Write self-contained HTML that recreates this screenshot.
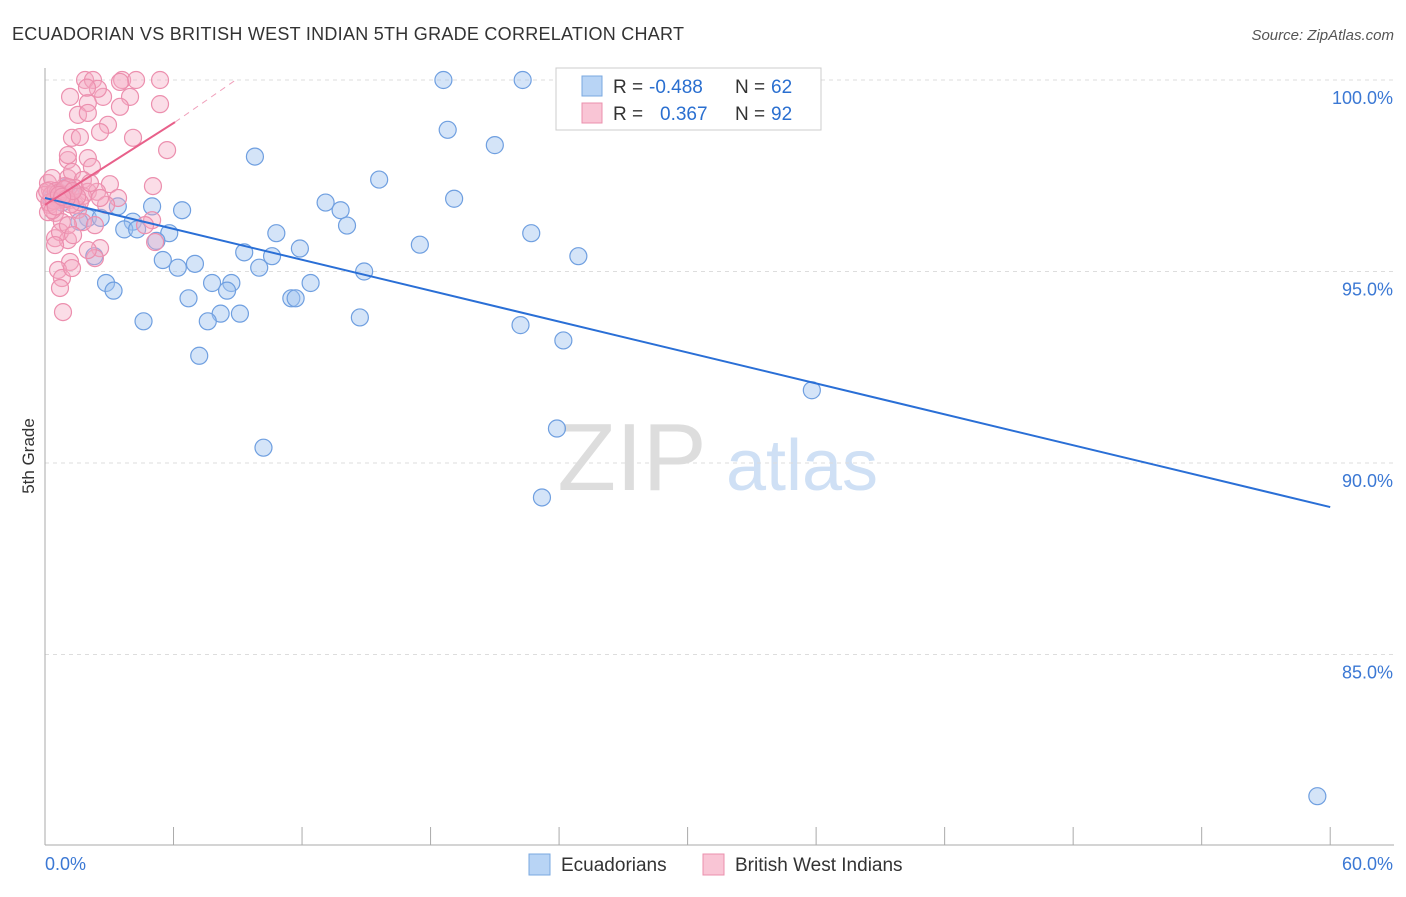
<!DOCTYPE html>
<html><head><meta charset="utf-8"><style>
body{margin:0;background:#fff;font-family:"Liberation Sans",sans-serif}
svg text{font-family:"Liberation Sans",sans-serif}
</style></head><body>
<svg id="c" width="1406" height="892">
<text x="12" y="40" font-size="18" fill="#333" textLength="672">ECUADORIAN VS BRITISH WEST INDIAN 5TH GRADE CORRELATION CHART</text>
<text x="1394" y="40" font-size="15" fill="#555" text-anchor="end" font-style="italic">Source: ZipAtlas.com</text>
<text x="34" y="456" font-size="17" fill="#333" text-anchor="middle" transform="rotate(-90 34 456)">5th Grade</text>
<g><text x="632" y="490" font-size="96" fill="#ddd" text-anchor="middle" font-family="Liberation Serif">ZIP</text><text x="802" y="490" font-size="72" fill="#cfe0f5" text-anchor="middle">atlas</text></g>
<g id="grid"></g><g id="pts"></g><g id="lines"></g>
<g>
<rect x="556" y="68" width="265" height="62" fill="#fff" stroke="#ccc"/>
<rect x="582" y="76" width="20" height="20" fill="#b8d4f5" stroke="#7aa8e0"/>
<rect x="582" y="103" width="20" height="20" fill="#f9c5d5" stroke="#eb90ad"/>
<text x="613" y="93" font-size="19" fill="#333">R =</text>
<text x="649" y="93" font-size="19" fill="#2a6fd0">-0.488</text>
<text x="735" y="93" font-size="19" fill="#333">N =</text>
<text x="771" y="93" font-size="19" fill="#2a6fd0">62</text>
<text x="613" y="120" font-size="19" fill="#333">R =</text>
<text x="660" y="120" font-size="19" fill="#2a6fd0">0.367</text>
<text x="735" y="120" font-size="19" fill="#333">N =</text>
<text x="771" y="120" font-size="19" fill="#2a6fd0">92</text>
</g>
<g>
<rect x="529" y="854" width="21" height="21" fill="#b8d4f5" stroke="#7aa8e0"/>
<text x="561" y="871" font-size="19" fill="#333">Ecuadorians</text>
<rect x="703" y="854" width="21" height="21" fill="#f9c5d5" stroke="#eb90ad"/>
<text x="735" y="871" font-size="19" fill="#333">British West Indians</text>
</g>
</svg>
<script>
const yTicks=[100,95,90,85];
const yTickLabels=["100.0%","95.0%","90.0%","85.0%"];
const xLabels=["0.0%","60.0%"];
const blueX=[18.6,22.3,18.8,21.0,9.8,15.6,19.1,1.0,3.4,5.0,6.4,13.1,13.8,14.1,2.0,1.6,2.6,4.1,3.7,4.3,5.8,5.2,10.8,22.7,17.5,11.9,9.3,2.3,5.5,10.6,24.9,6.2,7.0,10.0,14.9,2.85,7.8,8.7,12.4,8.5,3.2,6.7,11.5,11.7,9.1,8.2,7.6,4.6,14.7,22.2,24.2,7.2,35.8,23.9,10.2,23.2,59.4,0.5,0.3,1.2,0.8,26.7];
const blueY=[100,100,98.7,98.3,98.0,97.4,96.9,97.2,96.7,96.7,96.6,96.8,96.6,96.2,96.4,96.3,96.4,96.3,96.1,96.1,96.0,95.8,96.0,96.0,95.7,95.6,95.5,95.4,95.3,95.4,95.4,95.1,95.2,95.1,95.0,94.7,94.7,94.7,94.7,94.5,94.5,94.3,94.3,94.3,93.9,93.9,93.7,93.7,93.8,93.6,93.2,92.8,91.9,90.9,90.4,89.1,81.3,97.1,96.9,97.0,96.8,99.6];
const pinkX=[1.87,2.24,3.6,4.25,5.37,1.17,2.71,3.97,2.0,1.54,2.0,3.5,5.37,2.94,1.26,1.63,2.57,4.11,5.7,1.07,2.0,2.19,1.07,1.26,3.03,1.77,5.04,0.93,2.0,0.56,0.7,0.23,1.17,1.4,2.43,3.41,1.54,0.47,0.23,0.14,0.79,1.77,2.33,0.47,1.07,0.7,2.57,0.47,2.33,1.17,0.61,0.79,0.7,0.84,5.0,5.14,1.07,0.33,0,0.79,2.85,3.5,2.47,1.96,1.4,0.14,1.26,1.77,1.63,2.57,2.1,1.07,1.31,2.0,4.67,0.3,0.5,0.9,1.1,0.2,0.6,1.5,0.4,0.9,1.2,0.1,0.35,0.65,1.0,1.3,0.5,0.8];
const pinkY=[100,100,100,100,100,99.56,99.56,99.56,99.4,99.09,99.14,99.3,99.37,98.83,98.49,98.51,98.64,98.49,98.17,97.91,97.96,97.73,97.44,97.6,97.28,97.39,97.23,97.23,97.08,96.97,96.87,97.13,96.87,96.74,97.08,96.92,96.61,96.53,96.74,97.31,96.29,96.29,96.21,95.87,95.82,96.03,95.61,95.69,95.35,95.25,95.04,94.83,94.57,93.94,96.34,95.77,98.04,97.44,97.0,97.0,96.74,99.95,99.77,99.8,97.18,96.55,95.09,96.97,96.81,96.92,97.31,96.21,95.95,95.56,96.21,97.0,97.1,96.9,97.2,96.8,97.05,96.95,96.85,97.15,96.75,97.1,96.6,97.0,96.9,97.1,96.7,96.95];
const X=v=>45+v*21.42, Y=v=>80+(100-v)*38.3;
const NS="http://www.w3.org/2000/svg";
function mk(t,a,p){const e=document.createElementNS(NS,t);for(const k in a)e.setAttribute(k,a[k]);p.appendChild(e);return e;}
const svg=document.getElementById('c'),grid=document.getElementById('grid'),pts=document.getElementById('pts'),lines=document.getElementById('lines');
yTicks.forEach((t,i)=>{
 const l=mk('line',{x1:45,x2:1394,y1:Y(t),y2:Y(t),stroke:'#ddd','stroke-dasharray':'4,4'},grid);
 
 
 const tx=mk('text',{x:1393,y:Y(t)+24,'font-size':18,fill:'#3b78d4','text-anchor':'end'},grid);
 tx.textContent=yTickLabels[i];
 
 
});
const ax=mk('line',{x1:45,x2:45,y1:68,y2:845,stroke:'#aaa'},grid);


const bx=mk('line',{x1:45,x2:1394,y1:845,y2:845,stroke:'#aaa'},grid);


for(let i=0;i<=10;i++){const t=mk('line',{x1:X(i*6),x2:X(i*6),y1:827,y2:845,stroke:'#aaa'},grid);
 
 }
xLabels.forEach((s,i)=>{const t=mk('text',{x:i?1393:45,y:870,'font-size':18,fill:'#3b78d4','text-anchor':i?'end':'start'},grid);t.textContent=s;
 
 });
blueX.forEach((x,i)=>{const c=mk('circle',{cx:X(x),cy:Y(blueY[i]),r:8.5,fill:'rgba(160,196,240,0.45)',stroke:'#6f9fe0','stroke-width':1.2},pts);
 
 });
pinkX.forEach((x,i)=>{const c=mk('circle',{cx:X(x),cy:Y(pinkY[i]),r:8.5,fill:'rgba(246,170,195,0.4)',stroke:'#ec8fae','stroke-width':1.2},pts);
 
 });
const b=mk('line',{x1:X(0),y1:Y(96.92),x2:X(60),y2:Y(88.85),stroke:'#2a6fd6','stroke-width':2},lines);


const pd=mk('line',{x1:X(6.07),y1:Y(98.9),x2:X(8.9),y2:Y(100),stroke:'#f0a0bb','stroke-width':1,'stroke-dasharray':'6,5'},lines);


const p=mk('line',{x1:X(0),y1:Y(96.74),x2:X(6.07),y2:Y(98.9),stroke:'#e8608a','stroke-width':2},lines);


</script>
</body></html>
